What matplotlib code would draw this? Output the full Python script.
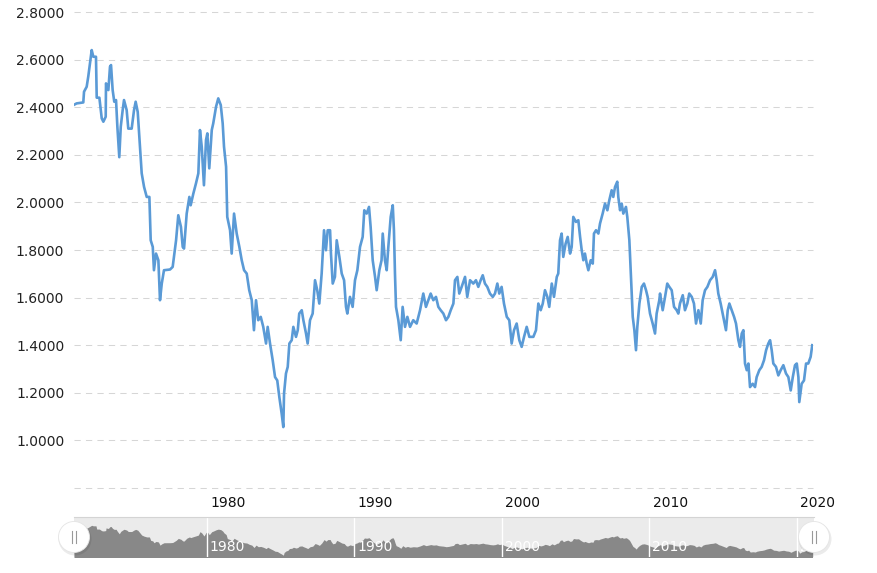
import numpy as np
import matplotlib
matplotlib.use("Agg")
import matplotlib.pyplot as plt
from matplotlib.patches import Circle
from matplotlib import transforms

# GBP/USD rate (decimal year, rate)
years = [
    1971.00, 1971.18, 1971.63, 1971.68, 1971.86, 1971.97, 1972.08, 1972.20, 1972.31, 1972.49,
    1972.54, 1972.72, 1972.88, 1972.99, 1973.15, 1973.17, 1973.33, 1973.44, 1973.51, 1973.62,
    1973.73, 1973.85, 1973.94, 1974.07, 1974.17, 1974.30, 1974.39, 1974.57, 1974.68, 1974.91,
    1975.07, 1975.18, 1975.32, 1975.43, 1975.59, 1975.75, 1975.93, 1976.11, 1976.20, 1976.34,
    1976.42, 1976.56, 1976.72, 1976.83, 1976.95, 1977.10, 1977.51, 1977.69, 1977.92, 1978.07,
    1978.25, 1978.37, 1978.46, 1978.64, 1978.82, 1978.91, 1979.09, 1979.27, 1979.43, 1979.54,
    1979.66, 1979.81, 1979.95, 1980.04, 1980.17, 1980.34, 1980.44, 1980.63, 1980.78, 1980.95,
    1981.08, 1981.17, 1981.31, 1981.39, 1981.58, 1981.69, 1981.85, 1982.03, 1982.21, 1982.37,
    1982.53, 1982.71, 1982.88, 1983.05, 1983.20, 1983.34, 1983.49, 1983.66, 1983.83, 1984.02,
    1984.13, 1984.29, 1984.47, 1984.63, 1984.78, 1984.92, 1985.08, 1985.19, 1985.24, 1985.37,
    1985.49, 1985.60, 1985.76, 1985.87, 1986.05, 1986.17, 1986.27, 1986.44, 1986.55, 1986.73,
    1986.84, 1987.00, 1987.18, 1987.34, 1987.49, 1987.63, 1987.79, 1987.95, 1988.08, 1988.20,
    1988.36, 1988.42, 1988.54, 1988.69, 1988.81, 1988.99, 1989.15, 1989.31, 1989.44, 1989.53,
    1989.71, 1989.89, 1990.05, 1990.21, 1990.39, 1990.57, 1990.68, 1990.84, 1991.00, 1991.11,
    1991.25, 1991.41, 1991.52, 1991.70, 1991.85, 1991.93, 1992.08, 1992.20, 1992.31, 1992.47,
    1992.61, 1992.69, 1992.76, 1992.83, 1992.99, 1993.15, 1993.28, 1993.44, 1993.60, 1993.78,
    1994.00, 1994.23, 1994.46, 1994.68, 1994.86, 1995.02, 1995.18, 1995.36, 1995.54, 1995.70,
    1995.86, 1996.04, 1996.22, 1996.38, 1996.54, 1996.72, 1996.83, 1996.99, 1997.12, 1997.28,
    1997.51, 1997.66, 1997.85, 1998.07, 1998.25, 1998.41, 1998.57, 1998.71, 1998.86, 1999.02,
    1999.20, 1999.39, 1999.54, 1999.70, 1999.83, 1999.99, 2000.15, 2000.34, 2000.51, 2000.67,
    2000.83, 2001.01, 2001.19, 2001.35, 2001.51, 2001.69, 2001.87, 2002.14, 2002.32, 2002.48,
    2002.64, 2002.78, 2002.93, 2003.09, 2003.22, 2003.39, 2003.54, 2003.73, 2003.83, 2003.95,
    2004.06, 2004.17, 2004.33, 2004.47, 2004.63, 2004.74, 2004.85, 2005.03, 2005.19, 2005.31,
    2005.42, 2005.53, 2005.64, 2005.76, 2005.87, 2006.03, 2006.17, 2006.25, 2006.39, 2006.55,
    2006.66, 2006.84, 2007.00, 2007.16, 2007.29, 2007.45, 2007.56, 2007.68, 2007.83, 2007.90,
    2008.02, 2008.13, 2008.24, 2008.42, 2008.51, 2008.65, 2008.74, 2008.88, 2008.99, 2009.10,
    2009.19, 2009.33, 2009.49, 2009.64, 2009.78, 2009.89, 2010.05, 2010.23, 2010.39, 2010.50,
    2010.68, 2010.73, 2010.91, 2011.07, 2011.22, 2011.36, 2011.52, 2011.68, 2011.86, 2011.97,
    2012.08, 2012.27, 2012.42, 2012.58, 2012.71, 2012.88, 2013.03, 2013.17, 2013.33, 2013.49,
    2013.62, 2013.78, 2013.94, 2014.12, 2014.30, 2014.46, 2014.57, 2014.68, 2014.84, 2015.02,
    2015.20, 2015.32, 2015.43, 2015.59, 2015.75, 2015.88, 2016.04, 2016.15, 2016.27, 2016.38,
    2016.49, 2016.61, 2016.72, 2016.83, 2017.01, 2017.17, 2017.28, 2017.46, 2017.62, 2017.78,
    2017.92, 2018.07, 2018.19, 2018.30, 2018.41, 2018.59, 2018.75, 2018.91, 2019.09, 2019.27,
    2019.43, 2019.59, 2019.73, 2019.88, 2020.00, 2020.11, 2020.17, 2020.33, 2020.49, 2020.63,
    2020.78, 2020.94, 2021.05,
]
rates = [
    2.410, 2.416, 2.420, 2.465, 2.486, 2.530, 2.584, 2.640, 2.612, 2.612,
    2.440, 2.440, 2.353, 2.339, 2.360, 2.500, 2.472, 2.570, 2.577, 2.472,
    2.423, 2.430, 2.318, 2.190, 2.318, 2.388, 2.430, 2.388, 2.310, 2.310,
    2.388, 2.423, 2.380, 2.276, 2.122, 2.065, 2.023, 2.023, 1.841, 1.813,
    1.715, 1.785, 1.757, 1.589, 1.659, 1.715, 1.718, 1.729, 1.841, 1.946,
    1.897, 1.813, 1.806, 1.953, 2.023, 1.988, 2.037, 2.080, 2.122, 2.304,
    2.234, 2.072, 2.262, 2.290, 2.143, 2.304, 2.332, 2.402, 2.437, 2.409,
    2.332, 2.234, 2.150, 1.939, 1.883, 1.785, 1.953, 1.869, 1.813, 1.757,
    1.715, 1.701, 1.631, 1.589, 1.463, 1.589, 1.505, 1.519, 1.477, 1.407,
    1.477, 1.407, 1.337, 1.266, 1.252, 1.182, 1.112, 1.056, 1.197, 1.281,
    1.309, 1.407, 1.421, 1.477, 1.435, 1.463, 1.533, 1.547, 1.505, 1.449,
    1.407, 1.505, 1.533, 1.673, 1.631, 1.575, 1.701, 1.883, 1.799, 1.883,
    1.883, 1.785, 1.659, 1.687, 1.841, 1.771, 1.701, 1.673, 1.561, 1.533,
    1.603, 1.561, 1.673, 1.715, 1.813, 1.855, 1.967, 1.953, 1.981, 1.897,
    1.757, 1.687, 1.631, 1.715, 1.757, 1.869, 1.757, 1.715, 1.813, 1.939,
    1.988, 1.883, 1.701, 1.561, 1.505, 1.421, 1.561, 1.477, 1.519, 1.477,
    1.505, 1.491, 1.547, 1.617, 1.561, 1.589, 1.617, 1.589, 1.603, 1.561,
    1.547, 1.533, 1.505, 1.519, 1.547, 1.575, 1.673, 1.687, 1.617, 1.645,
    1.687, 1.603, 1.673, 1.659, 1.673, 1.645, 1.673, 1.694, 1.659, 1.645,
    1.617, 1.603, 1.617, 1.659, 1.617, 1.645, 1.575, 1.519, 1.505, 1.407,
    1.463, 1.491, 1.421, 1.393, 1.435, 1.477, 1.435, 1.435, 1.463, 1.575,
    1.547, 1.575, 1.631, 1.603, 1.561, 1.659, 1.603, 1.687, 1.701, 1.841,
    1.869, 1.771, 1.827, 1.855, 1.785, 1.813, 1.939, 1.918, 1.925, 1.855,
    1.799, 1.757, 1.785, 1.743, 1.715, 1.757, 1.743, 1.869, 1.883, 1.869,
    1.911, 1.953, 1.995, 1.967, 2.009, 2.051, 2.023, 2.065, 2.087, 2.023,
    1.967, 1.995, 1.953, 1.981, 1.939, 1.841, 1.715, 1.519, 1.463, 1.379,
    1.477, 1.575, 1.645, 1.659, 1.631, 1.603, 1.533, 1.491, 1.449, 1.533,
    1.589, 1.617, 1.547, 1.603, 1.659, 1.645, 1.631, 1.561, 1.547, 1.533,
    1.575, 1.610, 1.547, 1.575, 1.617, 1.603, 1.575, 1.491, 1.547, 1.491,
    1.589, 1.631, 1.645, 1.673, 1.687, 1.715, 1.673, 1.617, 1.575, 1.519,
    1.463, 1.547, 1.575, 1.547, 1.519, 1.491, 1.421, 1.393, 1.449, 1.463,
    1.323, 1.295, 1.323, 1.224, 1.238, 1.224, 1.266, 1.295, 1.309, 1.337,
    1.379, 1.407, 1.421, 1.379, 1.323, 1.309, 1.273, 1.295, 1.316, 1.281,
    1.266, 1.210, 1.266, 1.316, 1.323, 1.266, 1.161, 1.238, 1.252, 1.323,
    1.323, 1.351, 1.400,
]

y_ticks = [0.8, 1.0, 1.2, 1.4, 1.6, 1.8, 2.0, 2.2, 2.4, 2.6, 2.8]
decades = [1980, 1990, 2000, 2010, 2020]

W, H = 878, 573
x0, x1 = 74, 813
fig = plt.figure(figsize=(W / 100, H / 100), dpi=100)
plt.rcParams["font.family"] = "DejaVu Sans"

ax = fig.add_axes([x0 / W, (H - 488) / H, (x1 - x0) / W, 476 / H])
ax.plot(years, rates, color="#5a9ad6", lw=1.9, solid_joinstyle="round")
ax.set_xlim(1971.0, 2021.1)
ax.set_ylim(0.8, 2.8)
ax.set_yticks(y_ticks)
ax.set_yticklabels(["" if v < 0.9 else f"{v:.4f}" for v in y_ticks])
ax.tick_params(axis="y", length=0, pad=7, labelsize=10, labelcolor="#222222")
ax.set_xticks([])
for v in y_ticks:
    ax.axhline(v, color="#d6d6d6", lw=0.75, dashes=(6, 5), zorder=0, clip_on=False)
for s in ax.spines.values():
    s.set_visible(False)

# main x labels (drawn a little right of the decade position, as in the reference)
lab_tr = transforms.blended_transform_factory(ax.transData, ax.transAxes)
for d in decades:
    ax.text(d + 1.42, -0.032, str(d), transform=lab_tr, ha="center", va="center",
            fontsize=10, color="#111111", clip_on=False)

# navigator
nav = fig.add_axes([x0 / W, (H - 557) / H, (x1 + 1 - x0) / W, 40 / H])
nav.set_facecolor("#ebebeb")
nav.fill_between(years, rates, 0, color="#888888", lw=0)
nav.set_xlim(1971.0, 2021.15)
nav.set_ylim(0.96, 3.08)
nav.set_xticks([])
nav.set_yticks([])
for k, s in nav.spines.items():
    s.set_visible(k == "top")
nav.spines["top"].set_color("#d4d4d4")
nav_tr = transforms.blended_transform_factory(nav.transData, nav.transAxes)
for d in decades:
    nav.axvline(d, color="white", lw=1)
    nav.text(d + 0.2, 0.25, str(d), transform=nav_tr, ha="left", va="center",
             fontsize=10, color="white")

# navigator handles
over = fig.add_axes([0, 0, 1, 1])
over.set_xlim(0, W)
over.set_ylim(H, 0)
over.axis("off")
for hx in (x0, x1 + 1):
    hy = 537
    over.add_patch(Circle((hx + 1, hy + 2), 16.5, color="#000000", alpha=0.08, lw=0))
    over.add_patch(Circle((hx, hy), 15.5, facecolor="white", edgecolor="#e4e4e4", lw=0.6))
    over.plot([hx - 1.8, hx - 1.8], [hy - 6, hy + 6], color="#999999", lw=0.8)
    over.plot([hx + 1.8, hx + 1.8], [hy - 6, hy + 6], color="#999999", lw=0.8)

fig.savefig("out.png", dpi=100)
